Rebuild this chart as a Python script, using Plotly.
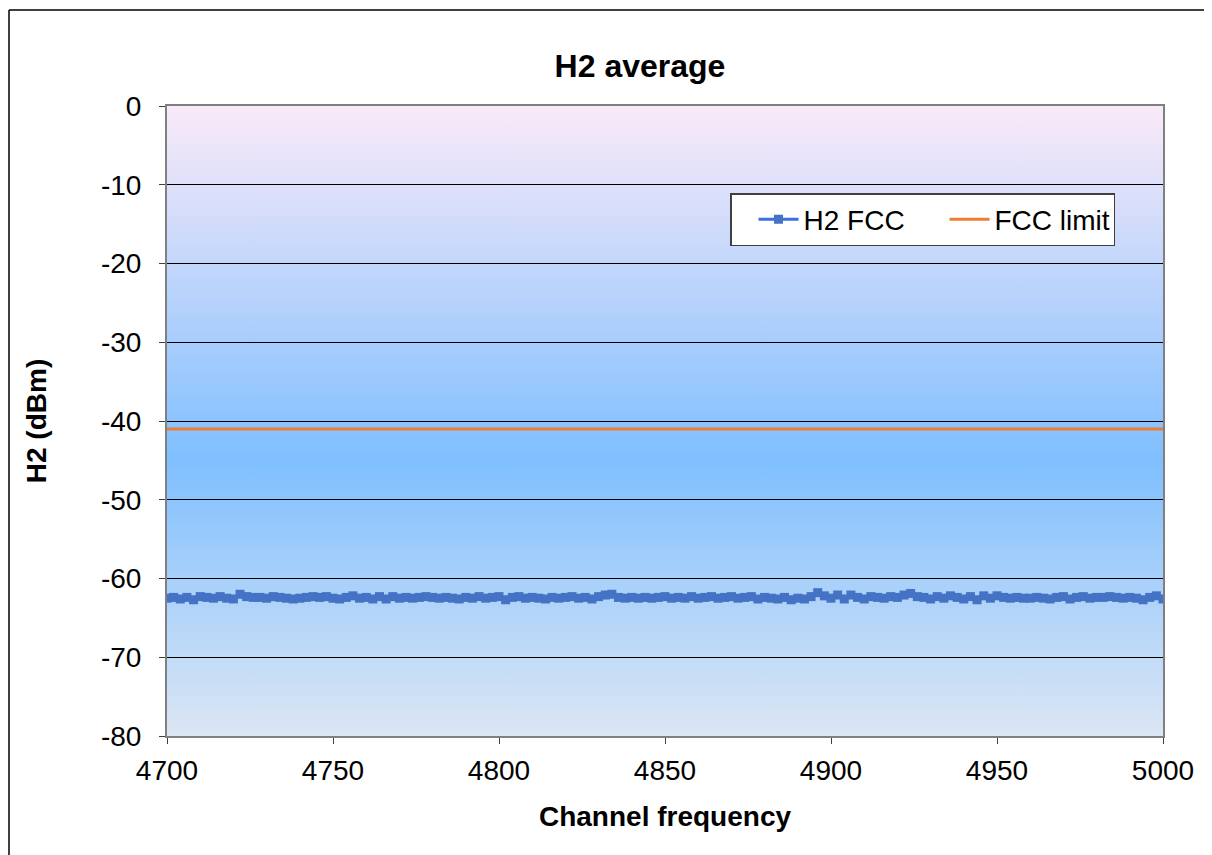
import base64
import plotly.graph_objects as go

freq = list(range(4700, 5001, 2))
h2_fcc = [
    -62.5, -62.4, -62.6, -62.4, -62.7, -62.3, -62.4, -62.5, -62.3, -62.5,
    -62.6, -62.0, -62.3, -62.4, -62.4, -62.5, -62.3, -62.4, -62.5, -62.6,
    -62.5, -62.4, -62.3, -62.4, -62.3, -62.5, -62.6, -62.4, -62.2, -62.5,
    -62.4, -62.6, -62.3, -62.6, -62.3, -62.5, -62.4, -62.5, -62.4, -62.3,
    -62.4, -62.5, -62.4, -62.5, -62.6, -62.4, -62.5, -62.3, -62.5, -62.4,
    -62.3, -62.7, -62.4, -62.3, -62.5, -62.4, -62.5, -62.6, -62.4, -62.5,
    -62.4, -62.3, -62.5, -62.4, -62.6, -62.3, -62.1, -62.0, -62.4, -62.5,
    -62.4, -62.5, -62.4, -62.5, -62.4, -62.3, -62.5, -62.4, -62.5, -62.3,
    -62.5, -62.4, -62.3, -62.5, -62.4, -62.3, -62.5, -62.4, -62.3, -62.6,
    -62.4, -62.5, -62.6, -62.4, -62.7, -62.5, -62.6, -62.3, -61.8, -62.2,
    -62.5, -62.1, -62.6, -62.1, -62.4, -62.6, -62.3, -62.4, -62.5, -62.3,
    -62.4, -62.1, -61.9, -62.3, -62.4, -62.6, -62.3, -62.5, -62.2, -62.4,
    -62.6, -62.3, -62.7, -62.2, -62.5, -62.2, -62.4, -62.5, -62.4, -62.5,
    -62.5, -62.4, -62.5, -62.6, -62.4, -62.3, -62.6, -62.4, -62.3, -62.5,
    -62.4, -62.4, -62.3, -62.4, -62.5, -62.4, -62.5, -62.7, -62.4, -62.2,
    -62.6,
]
limit_freq = [4700, 5000]
fcc_limit = [-41, -41]

y_ticks = list(range(-80, 1, 10))
x_ticks = list(range(4700, 5001, 50))

FONT = "Liberation Sans, Arial, sans-serif"

fig = go.Figure()
fig.add_trace(go.Scatter(
    x=freq, y=h2_fcc, name="H2 FCC", mode="lines+markers",
    line=dict(color="#3C6EE8", width=3),
    marker=dict(symbol="square", size=9, color="#4472C4"),
))
fig.add_trace(go.Scatter(
    x=limit_freq, y=fcc_limit, name="FCC limit", mode="lines",
    line=dict(color="#ED7D31", width=3),
))

# smooth background gradient for the plot area
svg = ('<svg xmlns="http://www.w3.org/2000/svg" width="10" height="100" preserveAspectRatio="none">'
       '<defs><linearGradient id="g" x1="0" y1="0" x2="0" y2="1">'
       '<stop offset="0" stop-color="#FAEAF8"/>'
       '<stop offset="0.56" stop-color="#7FBFFF"/>'
       '<stop offset="1" stop-color="#DCE6F4"/>'
       '</linearGradient></defs><rect width="10" height="100" fill="url(#g)"/></svg>')
bg_src = "data:image/svg+xml;base64," + base64.b64encode(svg.encode()).decode()

# figure geometry (page body has an 8px margin)
W, H = 1204, 847
L, R, T, B = 159, 49, 98, 119
pw, ph = W - L - R, H - T - B

frame_x = (1 - L) / pw
frame_y = 1 + (T - 2) / ph
shapes = [
    dict(type="line", xref="paper", yref="paper", x0=frame_x, x1=frame_x,
         y0=-(B + 5) / ph, y1=frame_y, line=dict(color="black", width=1.5), layer="below"),
    dict(type="line", xref="paper", yref="paper", x0=frame_x, x1=(W + 5 - L) / pw,
         y0=frame_y, y1=frame_y, line=dict(color="black", width=1.5), layer="below"),
]

fig.update_layout(
    width=W, height=H,
    margin=dict(l=L, r=R, t=T, b=B),
    paper_bgcolor="white", plot_bgcolor="rgba(0,0,0,0)",
    font=dict(family=FONT, size=28, color="black"),
    title=dict(text="<b>H2 average</b>", x=(632 - L) / pw, xref="paper", xanchor="center",
               y=1 - 58 / H, yanchor="middle", font=dict(size=32)),
    shapes=shapes,
    images=[dict(source=bg_src, xref="paper", yref="paper", x=0, y=1, sizex=1, sizey=1,
                 xanchor="left", yanchor="top", sizing="stretch", layer="below")],
    showlegend=True,
    legend=dict(orientation="h", x=(730 - 167) / pw, y=1 - (193 - 106) / ph,
                xanchor="left", yanchor="top",
                bgcolor="white", bordercolor="#404040", borderwidth=1.5,
                font=dict(size=28), indentation=22, entrywidth=114, itemwidth=40),
)
fig.update_xaxes(
    range=[4700, 5000], tickvals=x_ticks, ticktext=[str(v) for v in x_ticks],
    showgrid=False, zeroline=False, showline=True, linecolor="#808080", linewidth=2, mirror=True,
    ticks="outside", ticklen=6, tickcolor="#404040", ticklabelstandoff=2,
    title=dict(text="<b>Channel frequency</b>", font=dict(size=28), standoff=22),
)
fig.update_yaxes(
    range=[-80, 0], tickvals=y_ticks, ticktext=[str(v) for v in y_ticks],
    showgrid=True, gridcolor="black", gridwidth=1, zeroline=False,
    showline=True, linecolor="#808080", linewidth=2, mirror=True,
    ticks="outside", ticklen=6, tickcolor="#404040", ticklabelstandoff=12,
    title=dict(text="<b>H2 (dBm)</b>", font=dict(size=28), standoff=46),
)

fig.write_html("out.html")
